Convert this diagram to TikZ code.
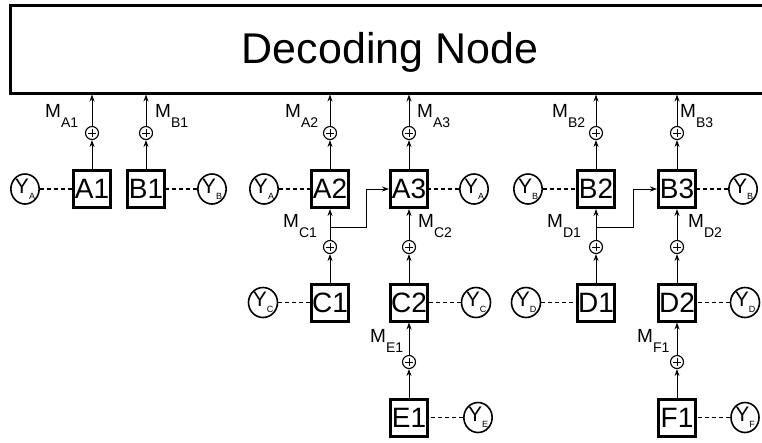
\documentclass[tikz,border=0pt]{standalone}
\usepackage{fontspec}
\setmainfont{Liberation Sans}
\usetikzlibrary{arrows.meta,shapes.geometric}
\newcommand\ylab[1]{{\fontsize{21}{21}\selectfont Y}\raisebox{-6pt}{\fontsize{9}{9}\selectfont #1}}
\newcommand\mlab[1]{{\fontsize{19}{19}\selectfont M}\raisebox{-10pt}{\fontsize{14}{14}\selectfont #1}}
\begin{document}
\begin{tikzpicture}[x=1pt,y=-1pt,
 decbox/.style={draw, line width=3pt, minimum width=757pt, minimum height=88pt, inner sep=0pt},
 dectext/.style={font=\fontsize{43}{43}\selectfont, inner sep=0pt, anchor=base},
 unit/.style={draw, line width=3pt, minimum size=37pt, inner sep=0pt, font=\fontsize{28}{28}\selectfont},
 ysrc/.style={draw, ellipse, line width=1.6pt, minimum width=28pt, minimum height=30pt, inner sep=0pt},
 plusc/.style={draw, circle, line width=1.1pt, minimum size=13pt, inner sep=0pt,
   path picture={\draw[line width=0.9pt] ([xshift=-4pt]path picture bounding box.center) -- ([xshift=4pt]path picture bounding box.center);
                 \draw[line width=0.9pt] ([yshift=-4pt]path picture bounding box.center) -- ([yshift=4pt]path picture bounding box.center);}},
 mtext/.style={anchor=base west, inner sep=0pt},
 arr/.style={line width=1pt, -{Stealth[length=7pt,width=5pt]}},
 dline/.style={line width=1.2pt, dash pattern=on 4pt off 3pt}
]
\useasboundingbox (0,0) rectangle (762,442);
\node[decbox] (dec) at (388.5,49) {};
\node[dectext] (dectxt) at (390,63) {Decoding Node};

% units
\foreach \n/\x/\y in {A1/92/189, B1/146/189, A2/330/189, A3/409/189, B2/596/189, B3/677/189,
                      C1/330/302.5, C2/409/302.5, D1/596/302.5, D2/677/302.5,
                      E1/409/417.5, F1/677/417.5}
  \node[unit] (\n) at (\x,\y) {\n};

% plus circles
\foreach \n/\x/\y in {A1/92/133, B1/146/133, A2/330/133, A3/409/133, B2/596/133, B3/677/133,
                      C1/330/247, C2/409/247, D1/596/247, D2/677/247,
                      E1/409/362, F1/677/362}
  \node[plusc] (p\n) at (\x,\y) {};

% sources
\foreach \n/\s/\x/\y in {A1/A/25/189, B1/B/212/189, A2/A/264/189, A3/A/474/189, B2/B/528/189, B3/B/743/189,
                         C1/C/263/302.5, C2/C/476/302.5, D1/D/526/302.5, D2/D/745/302.5,
                         E1/E/478/417.5, F1/F/745/417.5}
{
  \node[ysrc] (y\n) at (\x,\y) {\ylab{\s}};
  \draw[dline] (y\n) -- (\n);
}

% unit -> plus
\foreach \n in {A1,B1,A2,A3,B2,B3,C1,C2,D1,D2,E1,F1}
  \draw[arr] (\n.north) -- (p\n.south);

% plus -> decoding node
\foreach \n in {A1,B1,A2,A3,B2,B3}
  \draw[arr] (p\n.north) -- (p\n.north |- dec.south);

% plus -> upper unit
\draw[arr] (pC1.north) -- (A2.south);
\draw[arr] (pC2.north) -- (A3.south);
\draw[arr] (pD1.north) -- (B2.south);
\draw[arr] (pD2.north) -- (B3.south);
\draw[arr] (pE1.north) -- (C2.south);
\draw[arr] (pF1.north) -- (D2.south);

% branches
\coordinate (jC) at (330,227);
\coordinate (kC) at (366,227);
\coordinate (jD) at (596,227);
\coordinate (kD) at (633,227);
\draw[arr] (jC) -- (kC) |- (A3.west);
\draw[arr] (jD) -- (kD) |- (B3.west);

% labels
\node[mtext] (mA1) at (45,117) {\mlab{A1}};
\node[mtext] (mB1) at (155,117) {\mlab{B1}};
\node[mtext] (mA2) at (285,117) {\mlab{A2}};
\node[mtext] (mA3) at (417,117) {\mlab{A3}};
\node[mtext] (mB2) at (552,117) {\mlab{B2}};
\node[mtext] (mB3) at (680,117) {\mlab{B3}};
\node[mtext] (mC1) at (283,227) {\mlab{C1}};
\node[mtext] (mC2) at (418,227) {\mlab{C2}};
\node[mtext] (mD1) at (547,227) {\mlab{D1}};
\node[mtext] (mD2) at (688,227) {\mlab{D2}};
\node[mtext] (mE1) at (370,342) {\mlab{E1}};
\node[mtext] (mF1) at (637,342) {\mlab{F1}};
\end{tikzpicture}
\end{document}
